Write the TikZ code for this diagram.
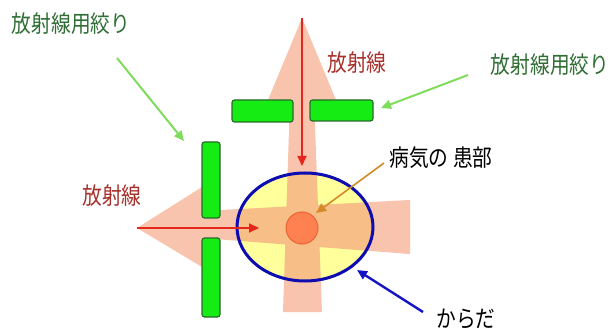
\documentclass[tikz,border=0pt]{standalone}
\usepackage{fontspec}
\newfontfamily\jp[FakeStretch=0.84]{Noto Sans CJK JP}
\usetikzlibrary{arrows.meta}
\definecolor{beamout}{HTML}{F9C4AE}
\definecolor{beamin}{HTML}{F8BE88}
\definecolor{bodyfill}{HTML}{FFFF9C}
\definecolor{bodyline}{HTML}{0C0CB0}
\definecolor{tumorfill}{HTML}{FF8050}
\definecolor{tumorline}{HTML}{EC6434}
\definecolor{collimfill}{HTML}{14EC14}
\definecolor{collimline}{HTML}{2A6A2A}
\definecolor{raycol}{HTML}{E5261C}
\definecolor{labgreen}{HTML}{2F6E34}
\definecolor{labred}{HTML}{A8302C}
\definecolor{pointgreen}{HTML}{80DC5C}
\definecolor{pointorange}{HTML}{D48A28}
\definecolor{pointblue}{HTML}{1414C4}
\tikzset{
  collim/.style={draw=collimline, fill=collimfill, line width=1.2pt,
    rounded corners=2.5pt, inner sep=0pt, outer sep=0pt},
  lbl/.style={font=\jp\fontsize{23.5}{23.5}\selectfont, inner sep=0pt},
  ray/.style={draw=raycol, line width=1.8pt, -{Triangle[length=10pt,width=9pt]}},
  pointer/.style={line width=2pt, -{Triangle[length=10pt,width=9pt]}}
}
\begin{document}
\begin{tikzpicture}[x=1pt,y=-1pt]
\useasboundingbox[fill=white] (0,0) rectangle (610,331);

% beam outlines (outside the body)
\def\beamshapes{
  (302,18) -- (336,100) -- (268,100) -- cycle
  (290,100) -- (314,100) -- (322,312) -- (283,312) -- cycle
  (137,228) -- (202,187) -- (202,267) -- cycle
  (202,211) -- (410,200) -- (410,254) -- (202,238) -- cycle
}
\fill[beamout] \beamshapes;

% body
\fill[bodyfill] (305,227) ellipse [x radius=68, y radius=54];
\begin{scope}
  \clip (305,227) ellipse [x radius=68, y radius=54];
  \fill[beamin] \beamshapes;
\end{scope}
\draw[bodyline, line width=3pt] (305,227) ellipse [x radius=68, y radius=54];

% diseased area
\node[circle, fill=tumorfill, draw=tumorline, line width=1pt,
      minimum size=32pt, inner sep=0pt] (tumor) at (302,228) {};

% collimators
\node[collim, minimum width=61pt, minimum height=22pt] (cTL) at (262.5,111) {};
\node[collim, minimum width=63pt, minimum height=21pt] (cTR) at (341.5,110.5) {};
\node[collim, minimum width=18pt, minimum height=76pt] (cLU) at (211,180) {};
\node[collim, minimum width=18pt, minimum height=79pt] (cLD) at (211,277.5) {};

% radiation rays
\coordinate (srcTop) at (302,18);
\coordinate (hitTop) at (302,166);
\coordinate (srcLeft) at (137,228);
\coordinate (hitLeft) at (259,228);
\draw[ray] (srcTop) -- (hitTop);
\draw[ray] (srcLeft) -- (hitLeft);

% labels
\node[lbl, text=labgreen] (collimA) at (71,24) {放射線用絞り};
\node[lbl, text=labgreen] (collimB) at (550,65) {放射線用絞り};
\node[lbl, text=labred] (radTop) at (357,63) {放射線};
\node[lbl, text=labred] (radLeft) at (112,196) {放射線};
\node[lbl, text=black] (lesion) at (441,158) {病気の 患部};
\node[lbl, text=black] (body) at (466,319) {からだ};

% pointers
\coordinate (pA0) at (117,58);
\coordinate (pA1) at (184,141);
\coordinate (pB0) at (468,75);
\coordinate (pB1) at (381,108);
\coordinate (pC0) at (384,163);
\coordinate (pC1) at (316,213);
\coordinate (pD0) at (423,312);
\coordinate (pD1) at (357,270);
\draw[pointer, draw=pointgreen, fill=pointgreen] (pA0) -- (pA1);
\draw[pointer, draw=pointgreen, fill=pointgreen] (pB0) -- (pB1);
\draw[pointer, draw=pointorange, fill=pointorange, line width=1.6pt] (pC0) -- (pC1);
\draw[pointer, draw=pointblue, fill=pointblue, line width=2.4pt] (pD0) -- (pD1);
\end{tikzpicture}
\end{document}
